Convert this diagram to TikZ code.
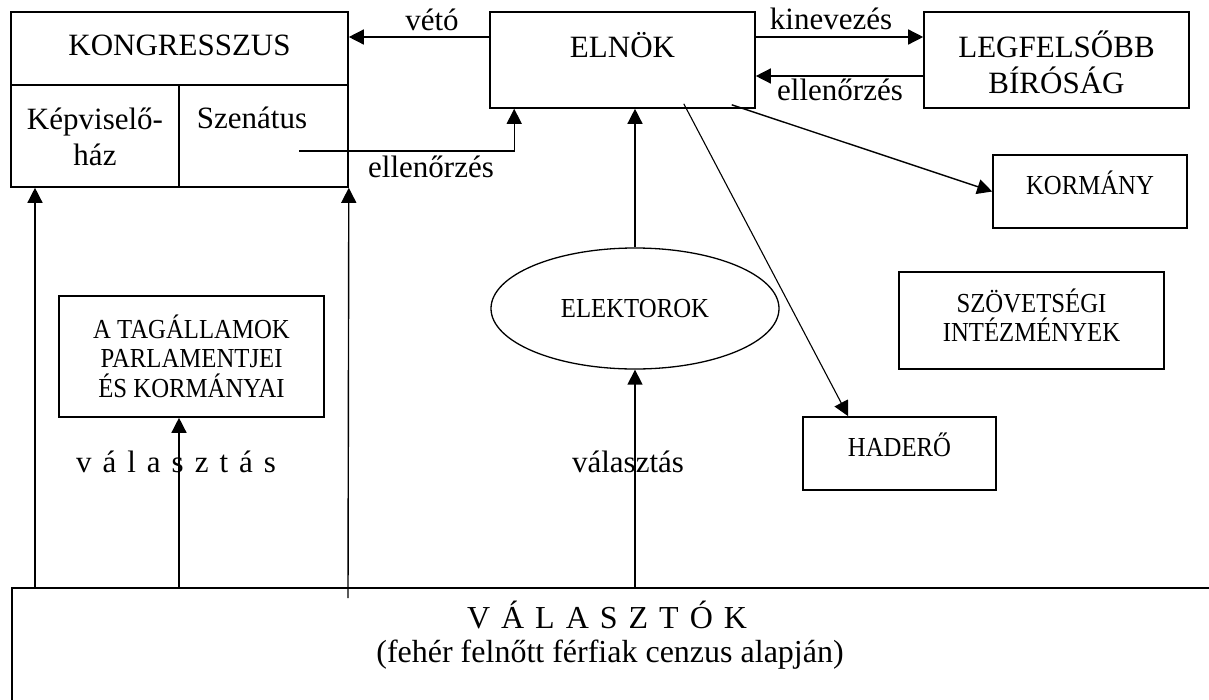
\documentclass[tikz,border=0pt]{standalone}
\usepackage{fontspec}
\setmainfont{Liberation Serif}
\newfontfamily\narrowserif{Liberation Serif}[FakeStretch=0.9]
\usetikzlibrary{arrows.meta,shapes.geometric}

\tikzset{
  box/.style={draw, line width=1.6pt, inner sep=0pt},
  big/.style={font=\fontsize{31}{36}\selectfont, align=center},
  small/.style={font=\narrowserif\fontsize{27.5}{29.5}\selectfont, align=center},
  arr/.style={line width=1.4pt, -{Triangle[length=15pt,width=15pt]}},
  wide/.style={execute at begin node={\spaceskip=11pt\relax}}
}

\begin{document}
\begin{tikzpicture}[x=1pt,y=-1pt]
\path[use as bounding box, clip] (0,0) rectangle (1209,699);

% boxes
\node[box, minimum width=337, minimum height=175] (kongr) at (179.5,99.5) {};
\draw[line width=1.6pt] (kongr.west |- 0,85) -- (kongr.east |- 0,85);
\draw[line width=1.6pt] (179,85) -- (kongr.south -| 179,0);
\node[box, minimum width=265, minimum height=96] (elnok) at (622.5,60) {};
\node[box, minimum width=265, minimum height=96] (legf) at (1056.5,60) {};
\node[box, minimum width=194, minimum height=73] (kormany) at (1090,191.5) {};
\node[box, minimum width=265, minimum height=121] (tag) at (191.5,356.5) {};
\node[box, minimum width=265, minimum height=97] (szov) at (1031.5,320.5) {};
\node[box, minimum width=193, minimum height=73] (hadero) at (899.5,453.5) {};
\node[draw, line width=1.3pt, ellipse, minimum width=288, minimum height=121, small] (elek) at (635,308.5) {ELEKTOROK};
\node[box, anchor=north west, minimum width=1240, minimum height=140] (val) at (11,587) {};

% texts
\node[big] (kongtxt) at (179.5,45) {KONGRESSZUS};
\node[big] (keptxt) at (95,137) {Képviselő-\\ház};
\node[big] (szentxt) at (252,118) {Szenátus};
\node[big] (elnoktxt) at (622.5,45) {ELNÖK};
\node[big] (legftxt) at (1056.5,62) {LEGFELSŐBB\\BÍRÓSÁG};
\node[small] (kormtxt) at (1090,183) {KORMÁNY};
\node[small] (tagtxt) at (191.5,356) {A TAGÁLLAMOK\\PARLAMENTJEI\\ÉS KORMÁNYAI};
\node[small] (szovtxt) at (1031.5,315) {SZÖVETSÉGI\\INTÉZMÉNYEK};
\node[small] (haderotxt) at (899.5,445) {HADERŐ};
\node[big, wide, anchor=base, font=\fontsize{32}{36}\selectfont] (valtxt) at (607,628) {V Á L A S Z T Ó K};
\node[big, anchor=base, font=\fontsize{32}{36}\selectfont] (valsub) at (610,662) {(fehér felnőtt férfiak cenzus alapján)};

% labels
\node[big, anchor=base] (vetolbl) at (432,30) {vétó};
\node[big, anchor=base] (kinlbl) at (831,29) {kinevezés};
\node[big, anchor=base] (ell1lbl) at (840,100) {ellenőrzés};
\node[big, anchor=base] (ell2lbl) at (431,177) {ellenőrzés};
\node[big, wide, anchor=base] (val1lbl) at (176,472) {v á l a s z t á s};
\node[big, anchor=base] (val2lbl) at (628,472) {választás};

% connectors
\draw[arr] (elnok.west |- 0,37) -- (kongr.east |- 0,37);
\draw[arr] (elnok.east |- 0,37) -- (legf.west |- 0,37);
\draw[arr] (legf.west |- 0,76) -- (elnok.east |- 0,76);
\coordinate (szenend) at (299,151);
\draw[arr] (szenend) -| ([xshift=25pt]elnok.south west);
\draw[arr] (elek.north) -- (elnok.south -| elek.north);
\draw[arr] (val.north -| elek.south) -- (elek.south);
\draw[arr] ([xshift=-24pt,yshift=4pt]elnok.south east) -- (kormany.west);
\draw[arr, line width=1.1pt] ([xshift=-72pt,yshift=5pt]elnok.south east) -- ([xshift=46pt]hadero.north west);
\draw[arr] (val.north -| 35,0) -- (kongr.south -| 35,0);
\draw[arr] (val.north -| 179,0) -- (tag.south -| 179,0);
\coordinate (kongrfoot) at (348,598);
\draw[arr] (kongrfoot) -- (kongr.south east);
\end{tikzpicture}
\end{document}
